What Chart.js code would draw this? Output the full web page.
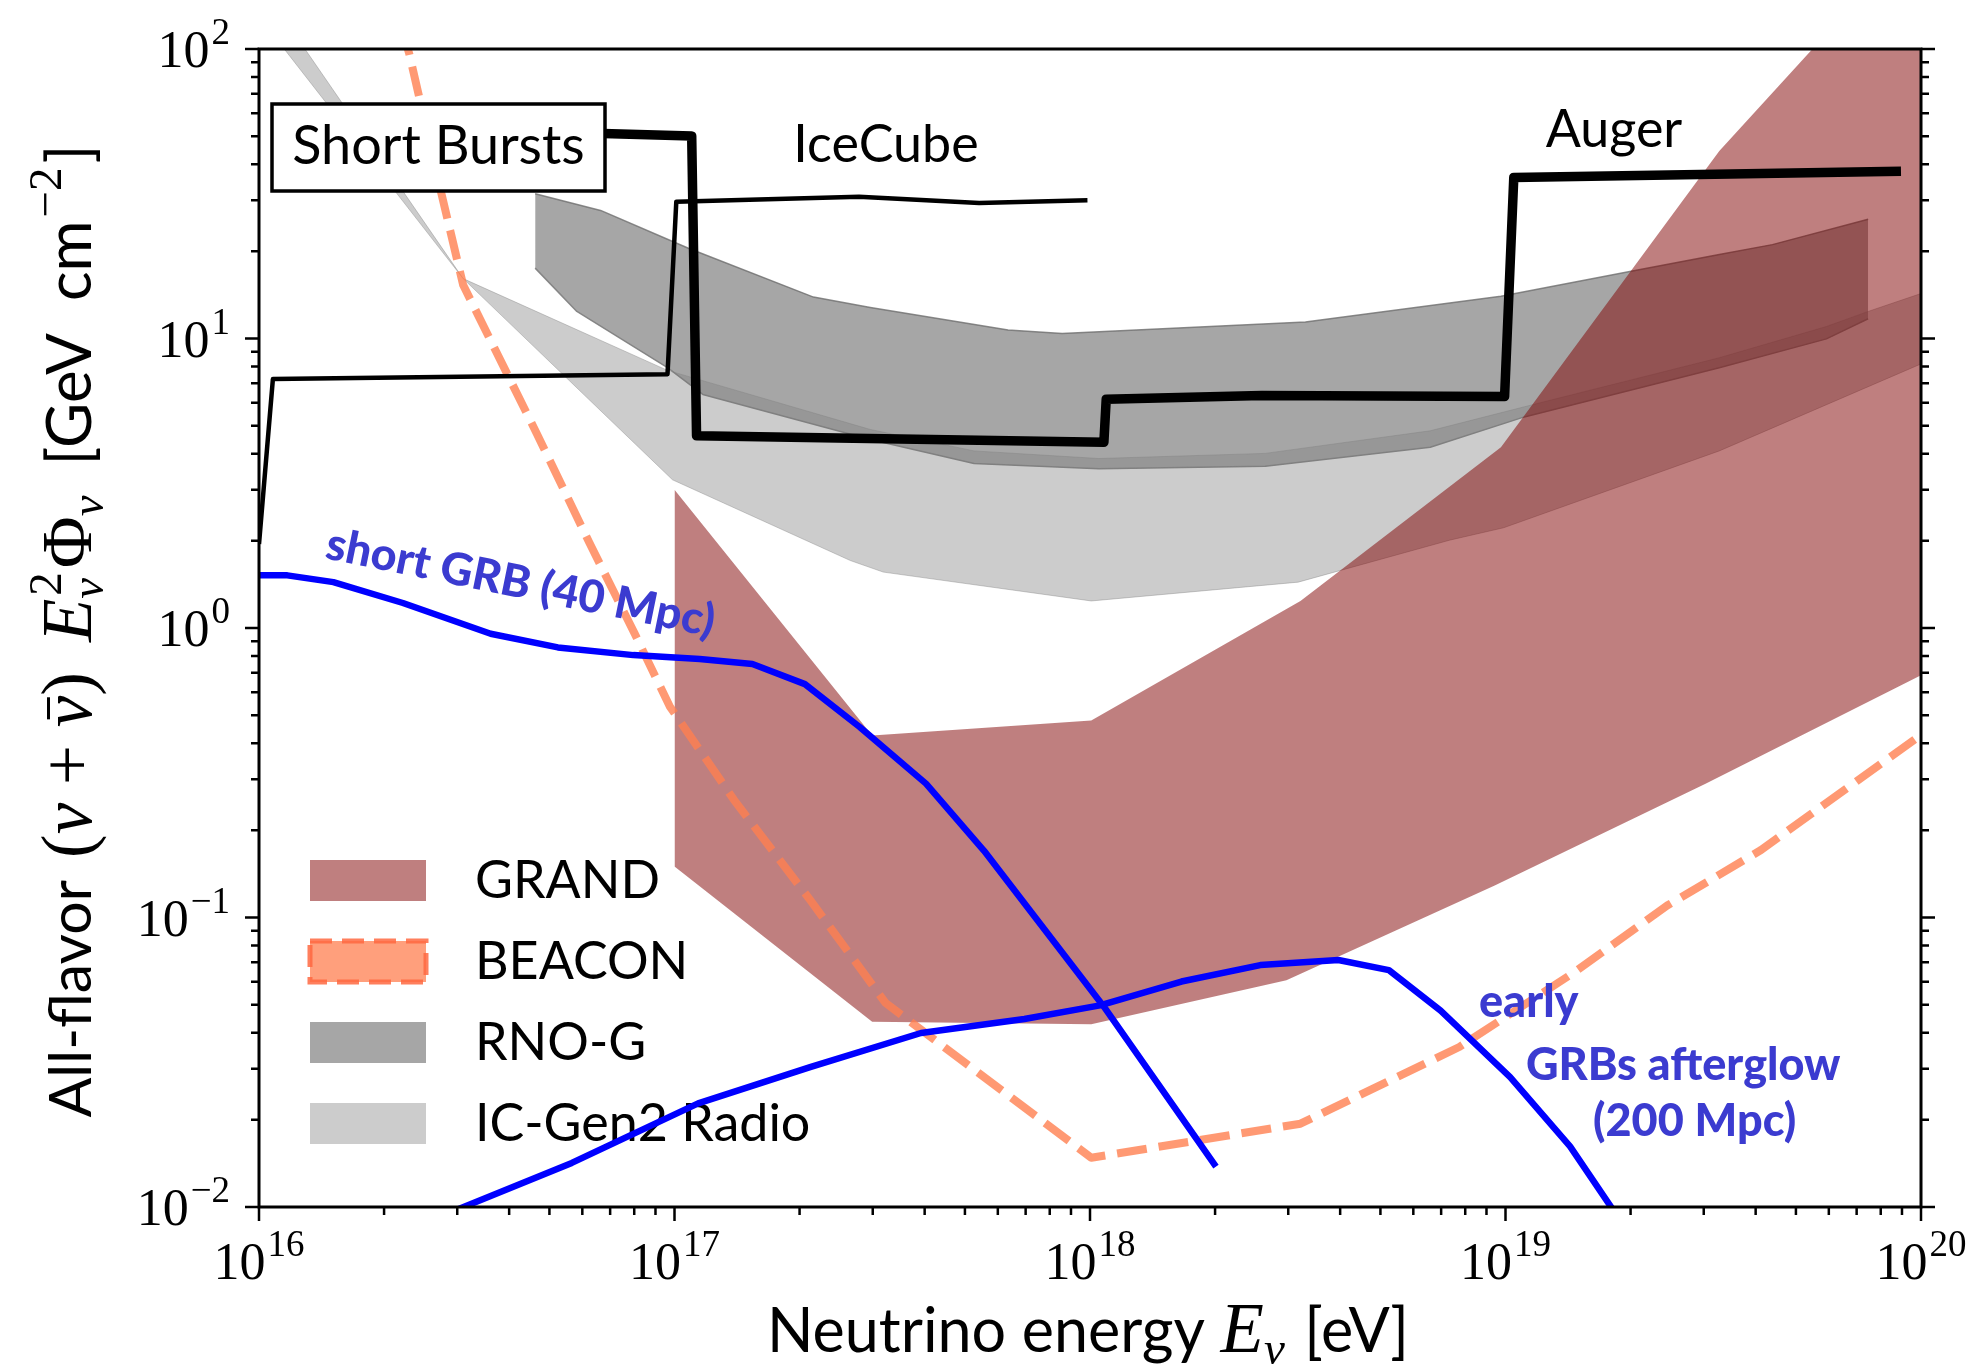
<!DOCTYPE html>
<html>
<head>
<meta charset="utf-8">
<title>Short Bursts – neutrino flux sensitivities</title>
<script src="https://cdn.jsdelivr.net/npm/chart.js@4.4.1/dist/chart.umd.min.js"></script>
<style>
  html, body { margin: 0; padding: 0; background: #fff; }
  #wrap { width: 1978px; height: 1369px; }
</style>
</head>
<body>
<div id="wrap"><canvas id="myChart" width="1978" height="1369"></canvas></div>
<script>
// energies in eV, fluxes E^2 Phi in GeV cm^-2
const iceCubeE = [1.00e16, 1.08e16, 9.62e16, 1.01e17, 2.78e17, 5.41e17, 9.86e17];
const iceCubeF = [1.95, 7.24, 7.53, 29.7, 30.9, 29.4, 30.0];

const augerE = [2.0e16, 6.74e16, 1.10e17, 1.13e17, 1.08e18, 1.094e18, 2.59e18, 9.95e18, 1.047e19, 8.95e19];
const augerF = [51.1, 51.1, 50.1, 4.61, 4.38, 6.17, 6.35, 6.30, 36.0, 37.8];

const shortGrbE = [1.00e16, 1.17e16, 1.51e16, 2.22e16, 3.61e16, 5.24e16, 7.96e16, 1.15e17, 1.54e17,
                   2.06e17, 2.79e17, 4.03e17, 5.56e17, 1.08e18, 2.01e18];
const shortGrbF = [1.52, 1.52, 1.44, 1.22, 0.955, 0.857, 0.806, 0.782, 0.751,
                   0.640, 0.455, 0.290, 0.170, 0.0492, 0.01378];

const earlyGrbE = [2.95e16, 5.66e16, 1.14e17, 2.12e17, 3.92e17, 6.95e17, 1.057e18, 1.66e18,
                   2.57e18, 3.96e18, 5.24e18, 6.98e18, 1.026e19, 1.43e19, 1.83e19];
const earlyGrbF = [0.0097, 0.0142, 0.0228, 0.0304, 0.0399, 0.0446, 0.0497, 0.0601,
                   0.0685, 0.0713, 0.0658, 0.0477, 0.0281, 0.0162, 0.0096];

const beaconE = [2.20e16, 2.30e16, 2.74e16, 3.10e16, 4.66e16, 6.24e16, 8.02e16, 9.75e16, 1.39e17,
                 2.12e17, 3.22e17, 1.007e18, 3.21e18, 7.74e18, 1.46e19, 2.45e19, 4.12e19, 9.86e19];
const beaconF = [120, 96.1, 32.2, 15.3, 4.70, 1.97, 0.956, 0.535, 0.255,
                 0.115, 0.0507, 0.0148, 0.0194, 0.0357, 0.0645, 0.110, 0.171, 0.421];

const grandHiE = [1.0e17, 2.99e17, 1.007e18, 3.21e18, 9.75e18, 3.27e19, 5.48e19, 1.0e20];
const grandHiF = [3.0, 0.425, 0.479, 1.24, 4.21, 44.4, 100, 257];
const grandLoE = [1.0e17, 2.99e17, 1.007e18, 2.97e18, 9.42e18, 3.03e19, 1.0e20];
const grandLoF = [0.150, 0.0436, 0.0428, 0.0607, 0.129, 0.290, 0.687];

const rnoHiE = [4.62e16, 6.64e16, 1.08e17, 2.16e17, 2.96e17, 6.35e17, 8.57e17, 3.30e18,
                9.75e18, 2.02e19, 3.27e19, 4.39e19, 7.46e19];
const rnoHiF = [31.6, 27.7, 20.5, 13.9, 12.8, 10.7, 10.4, 11.4, 14.0, 17.1, 19.5, 21.1, 25.8];
const rnoLoE = [4.62e16, 5.82e16, 9.62e16, 1.17e17, 2.96e17, 5.26e17, 1.05e18, 2.64e18,
                6.59e18, 1.11e19, 3.27e19, 5.92e19, 7.46e19];
const rnoLoF = [17.5, 12.4, 7.93, 6.41, 4.48, 3.70, 3.55, 3.62, 4.21, 5.36, 7.93, 9.97, 11.7];

const icHiE = [1.15e16, 1.29e16, 3.10e16, 9.62e16, 2.96e17, 5.26e17, 1.05e18, 2.64e18,
               6.59e18, 1.11e19, 3.27e19, 5.92e19, 7.46e19, 1.0e20];
const icHiF = [128, 100, 16.1, 7.76, 4.85, 4.09, 3.85, 4.01, 4.80, 5.81, 8.58, 11.0, 12.4, 14.3];
const icLoE = [1.15e16, 3.10e16, 9.89e16, 2.65e17, 3.18e17, 1.007e18, 3.17e18, 7.33e18,
               9.90e18, 3.27e19, 1.0e20];
const icLoF = [100, 16.1, 3.25, 1.71, 1.56, 1.24, 1.44, 2.01, 2.22, 4.09, 8.17];

const xDecades = [16, 17, 18, 19, 20];
const yDecades = [-2, -1, 0, 1, 2];
const legendLabels = ['GRAND', 'BEACON', 'RNO-G', 'IC-Gen2 Radio'];

const SANS = 'Lato, "DejaVu Sans", sans-serif';
const SERIF = '"Liberation Serif", "DejaVu Serif", serif';
const BLUE_TEXT = '#3b3bd0';

function pts(xs, ys) {
    return xs.map((x, i) => ({x: x, y: ys[i]}));
}

const GRAND_FILL = 'rgba(128,0,0,0.5)';
const RNO_FILL = 'rgba(128,128,128,0.7)';
const IC_FILL = 'rgba(128,128,128,0.4)';
const BEACON_COLOR = 'rgba(255,127,80,0.8)';
const NONE = 'rgba(0,0,0,0)';

const datasets = [
    {label: 'Auger', data: pts(augerE, augerF), borderColor: '#000', borderWidth: 9.5, order: 1},
    {label: 'IceCube', data: pts(iceCubeE, iceCubeF), borderColor: '#000', borderWidth: 4.5, order: 2},
    {label: 'short GRB', data: pts(shortGrbE, shortGrbF), borderColor: '#0000ff', borderWidth: 6.5, order: 3},
    {label: 'early GRB', data: pts(earlyGrbE, earlyGrbF), borderColor: '#0000ff', borderWidth: 6.5, order: 4},
    {label: 'BEACON', data: pts(beaconE, beaconF), borderColor: BEACON_COLOR, borderWidth: 8,
        borderDash: [30, 12], borderCapStyle: 'butt', order: 5},
    {label: 'GRAND', data: pts(grandHiE, grandHiF), borderColor: NONE, borderWidth: 0,
        backgroundColor: GRAND_FILL, fill: 6, order: 6},
    {label: 'GRAND lo', data: pts(grandLoE, grandLoF), borderColor: NONE, borderWidth: 0, order: 6.5},
    {label: 'RNO-G', data: pts(rnoHiE, rnoHiF), borderColor: 'rgba(110,110,110,0.8)', borderWidth: 1.5,
        backgroundColor: RNO_FILL, fill: 8, order: 8},
    {label: 'RNO-G lo', data: pts(rnoLoE, rnoLoF), borderColor: 'rgba(110,110,110,0.8)', borderWidth: 1.5, order: 8.5},
    {label: 'IC-Gen2 Radio', data: pts(icHiE, icHiF), borderColor: IC_FILL, borderWidth: 1,
        backgroundColor: IC_FILL, fill: 10, order: 10},
    {label: 'IC-Gen2 lo', data: pts(icLoE, icLoF), borderColor: IC_FILL, borderWidth: 1, order: 10.5}
];

// draws a row of text pieces (plain, super/subscripts, gaps); returns the width
function rich(ctx, pieces, x, y, draw) {
    let cx = x;
    for (const p of pieces) {
        if (p.gap) { cx += p.gap; continue; }
        if (p.sup !== undefined || p.sub !== undefined) {
            let w = 0;
            if (p.sup) {
                ctx.font = '47px ' + SERIF;
                if (draw) ctx.fillText(p.sup, cx + 3, y - 30);
                w = Math.max(w, ctx.measureText(p.sup).width + 3);
            }
            if (p.sub) {
                ctx.font = 'italic 47px ' + SERIF;
                if (draw) ctx.fillText(p.sub, cx, y + 12);
                w = Math.max(w, ctx.measureText(p.sub).width);
            }
            cx += w + 4;
            continue;
        }
        ctx.font = p.f;
        const w = ctx.measureText(p.t).width;
        if (draw) {
            ctx.fillText(p.t, cx, y);
            if (p.bar) {
                ctx.fillRect(cx + w * 0.25, y - 44, w * 0.7, 3);
            }
        }
        cx += w;
    }
    return cx - x;
}

function richCentered(ctx, pieces, cx, y) {
    const w = rich(ctx, pieces, 0, 0, false);
    rich(ctx, pieces, cx - w / 2, y, true);
}

function forEachTick(decades, cb) {
    decades.forEach((d, i) => {
        for (let k = 1; k <= 9; k++) {
            if (k > 1 && i === decades.length - 1) break;
            cb(k * Math.pow(10, d), k === 1, d);
        }
    });
}

function powLabel(ctx, exp, x, y, align) {
    const sup = String(exp).replace('-', '\u2212');
    ctx.font = '52px ' + SERIF;
    const wb = ctx.measureText('10').width;
    ctx.font = '37px ' + SERIF;
    const ws = ctx.measureText(sup).width;
    const total = wb + 2 + ws;
    const left = align === 'center' ? x - total / 2 : x - total;
    ctx.font = '52px ' + SERIF;
    ctx.fillText('10', left, y);
    ctx.font = '37px ' + SERIF;
    ctx.fillText(sup, left + wb + 2, y - 23);
}

const decor = {
    id: 'decor',
    beforeDatasetsDraw(chart) {
        const ctx = chart.ctx;
        ctx.save();
        const fills = [GRAND_FILL, 'rgba(255,127,80,0.75)', RNO_FILL, IC_FILL];
        legendLabels.forEach((lab, i) => {
            const cy = 880 + i * 81;
            ctx.fillStyle = fills[i];
            ctx.fillRect(310, cy - 20, 116, 41);
            if (lab === 'BEACON') {
                ctx.setLineDash([22, 10]);
                ctx.lineWidth = 5;
                ctx.strokeStyle = 'rgba(255,105,65,0.85)';
                ctx.strokeRect(310, cy - 20, 116, 41);
                ctx.setLineDash([]);
            }
            ctx.fillStyle = '#000';
            ctx.font = '52px ' + SANS;
            ctx.textBaseline = 'alphabetic';
            ctx.fillText(lab, 475, cy + 18);
        });
        ctx.restore();
    },
    afterDatasetsDraw(chart) {
        const ctx = chart.ctx;
        ctx.save();
        // Short Bursts box
        ctx.fillStyle = '#fff';
        ctx.fillRect(272, 104, 333, 87);
        ctx.lineWidth = 3.5;
        ctx.strokeStyle = '#000';
        ctx.strokeRect(272, 104, 333, 87);
        ctx.fillStyle = '#000';
        ctx.font = '54px ' + SANS;
        ctx.textAlign = 'center';
        ctx.fillText('Short Bursts', 438.5, 164);
        ctx.font = '52px ' + SANS;
        ctx.fillText('IceCube', 886, 162);
        ctx.fillText('Auger', 1614, 147);

        // blue annotations
        ctx.fillStyle = BLUE_TEXT;
        ctx.font = '900 45px ' + SANS;
        ctx.textAlign = 'left';
        ctx.save();
        ctx.translate(324, 558);
        ctx.rotate(11.5 * Math.PI / 180);
        ctx.fillText('short GRB (40 Mpc)', 0, 0);
        ctx.restore();
        ctx.fillText('early', 1479, 1017);
        ctx.fillText('GRBs afterglow', 1526, 1080);
        ctx.fillText('(200 Mpc)', 1593, 1136);
        ctx.restore();
    },
    afterDraw(chart) {
        const ctx = chart.ctx;
        const a = chart.chartArea;
        const xs = chart.scales.x;
        const ys = chart.scales.y;
        ctx.save();
        ctx.strokeStyle = '#000';
        ctx.lineWidth = 3;
        ctx.strokeRect(a.left, a.top, a.right - a.left, a.bottom - a.top);
        ctx.lineWidth = 2.5;
        ctx.beginPath();
        forEachTick(xDecades, (v, major) => {
            const px = xs.getPixelForValue(v);
            ctx.moveTo(px, a.bottom);
            ctx.lineTo(px, a.bottom + (major ? 14 : 8));
        });
        forEachTick(yDecades, (v, major) => {
            const py = ys.getPixelForValue(v);
            const len = major ? 14 : 8;
            ctx.moveTo(a.left, py);
            ctx.lineTo(a.left - len, py);
            ctx.moveTo(a.right, py);
            ctx.lineTo(a.right + len, py);
        });
        ctx.stroke();

        ctx.fillStyle = '#000';
        ctx.textBaseline = 'alphabetic';
        xDecades.forEach(d => {
            powLabel(ctx, d, xs.getPixelForValue(Math.pow(10, d)), 1279, 'center');
        });
        yDecades.forEach(d => {
            powLabel(ctx, d, 230, ys.getPixelForValue(Math.pow(10, d)) + 18, 'right');
        });

        const big = '61px ' + SANS;
        const math = '71px ' + SERIF;
        const mathIt = 'italic 71px ' + SERIF;
        richCentered(ctx, [
            {t: 'Neutrino energy ', f: big},
            {t: 'E', f: mathIt},
            {sub: '\u03bd'},
            {t: ' [eV]', f: big}
        ], 1088, 1352);

        ctx.save();
        ctx.translate(91, 631);
        ctx.rotate(-Math.PI / 2);
        richCentered(ctx, [
            {t: 'All-flavor', f: '59px ' + SANS},
            {gap: 22},
            {t: '(', f: math},
            {t: '\u03bd', f: mathIt},
            {t: ' + ', f: math},
            {t: '\u03bd', f: mathIt, bar: true},
            {t: ')', f: math},
            {gap: 30},
            {t: 'E', f: mathIt},
            {sup: '2', sub: '\u03bd'},
            {t: '\u03a6', f: math},
            {sub: '\u03bd'},
            {gap: 26},
            {t: '[GeV', f: '62px ' + SANS},
            {gap: 32},
            {t: 'cm', f: '62px ' + SANS},
            {sup: '\u22122'},
            {t: ']', f: '62px ' + SANS}
        ], 0, 0);
        ctx.restore();
        ctx.restore();
    }
};

const ctx = document.getElementById('myChart');

new Chart(ctx, {
    type: 'line',
    data: {datasets: datasets},
    options: {
        responsive: false,
        animation: false,
        devicePixelRatio: 1,
        events: [],
        layout: {padding: {left: 259, top: 49, right: 57, bottom: 162}},
        elements: {
            point: {radius: 0},
            line: {tension: 0, borderJoinStyle: 'round', borderCapStyle: 'butt'}
        },
        plugins: {
            legend: {display: false},
            tooltip: {enabled: false}
        },
        scales: {
            x: {type: 'logarithmic', min: 1e16, max: 1e20, display: false},
            y: {type: 'logarithmic', min: 1e-2, max: 1e2, display: false}
        }
    },
    plugins: [decor]
});
</script>
</body>
</html>
